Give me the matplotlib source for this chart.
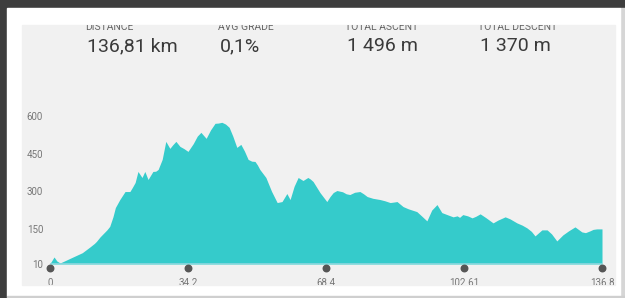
import matplotlib.pyplot as plt
from matplotlib.patches import Rectangle

# Elevation profile (km, m)
km = [0, 0.25, 1.0, 1.7, 2.5, 5.7, 8.0, 9.9, 11.0, 11.5, 12.4, 14.1, 14.8, 15.6,
      16.2, 17.3, 18.6, 19.8, 20.4, 21.1, 21.8, 22.8, 23.5, 24.3, 25.5, 26.2,
      26.8, 27.8, 28.7, 29.7, 30.4, 31.2, 32.2, 33.2, 34.2, 35.5, 36.5, 37.4,
      38.7, 39.8, 40.9, 41.7, 42.6, 43.5, 44.4, 45.3, 46.3, 47.3, 48.2, 49.1,
      50.0, 50.8, 51.4, 52.0, 53.5, 54.9, 56.3, 57.5, 58.7, 59.5, 60.5, 61.5,
      62.7, 63.9, 64.5, 65.2, 66.9, 68.6, 69.4, 70.2, 71.1, 72.5, 73.4, 74.3,
      75.5, 76.8, 77.7, 78.6, 80.0, 81.8, 83.0, 84.3, 85.2, 86.0, 87.5, 88.8,
      90.9, 92.2, 93.4, 94.6, 95.9, 97.1, 98.4, 99.9, 100.9, 101.5, 102.3,
      103.5, 104.6, 105.5, 106.6, 108.0, 109.8, 111.0, 112.8, 114.0, 115.7,
      117.0, 118.2, 119.3, 120.2, 121.9, 123.2, 124.3, 125.6, 127.1, 128.5,
      129.3, 130.1, 131.8, 132.7, 133.8, 134.6, 135.5, 136.8]
elev = [14, 18, 38, 22, 14, 38, 55, 78, 92, 100, 118, 146, 160, 198,
        235, 267, 299, 299, 315, 335, 379, 355, 379, 347, 379, 380,
        387, 427, 499, 471, 485, 499, 479, 470, 459, 490, 520, 535,
        511, 545, 571, 572, 575, 568, 555, 520, 475, 487, 460, 427,
        420, 419, 405, 387, 355, 300, 255, 259, 291, 267, 320, 355,
        343, 355, 349, 339, 295, 259, 279, 295, 303, 298, 290, 287,
        296, 299, 290, 279, 272, 267, 262, 255, 257, 259, 239, 230,
        219, 200, 182, 225, 247, 215, 207, 198, 202, 196, 207,
        202, 194, 200, 210, 195, 174, 185, 198, 190, 174,
        165, 154, 140, 122, 146, 146, 130, 102, 126, 142,
        150, 158, 138, 135, 142, 148, 150, 150]

yticks = [10, 150, 300, 450, 600]
xticks = [0, 34.2, 68.4, 102.61, 136.8]
xtick_labels = ["0", "34.2", "68.4", "102.61", "136.8"]

stat_labels = ["DISTANCE", "AVG GRADE", "TOTAL ASCENT", "TOTAL DESCENT"]
stat_values = ["136,81 km", "0,1%", "1 496 m", "1 370 m"]
stat_x = [87, 220, 347, 480]

W, H = 625, 298
fig = plt.figure(figsize=(W / 100, H / 100), dpi=100)
fig.patch.set_facecolor("#3d3d3d")

# background in pixel coordinates
bg = fig.add_axes([0, 0, 1, 1])
bg.set_xlim(0, W)
bg.set_ylim(H, 0)
bg.axis("off")
bg.add_patch(Rectangle((620, 8), 5, 290, color="#d6d6d6"))
bg.add_patch(Rectangle((7, 8), 613, 288, color="white"))
bg.add_patch(Rectangle((7, 296), 618, 2, color="#cfcfcf"))
panel = Rectangle((22, 25), 593, 260, color="#f1f1f1")
bg.add_patch(panel)

for x, lab, val in zip(stat_x, stat_labels, stat_values):
    t = bg.text(x - 2, 29.5, lab, fontsize=7.5, color="#666666", family="Roboto",
                va="baseline", ha="left", clip_on=True)
    t.set_clip_path(panel)
    bg.text(x, 51, val, fontsize=14, color="#3a3a3a", family="Roboto",
            va="baseline", ha="left")

# chart area: 0..136.8 km on x, 10 m at the baseline
ax = fig.add_axes([50 / W, (H - 264) / H, 552 / W, 164 / H])
ax.patch.set_alpha(0)
ax.fill_between(km, elev, 10, color="#35cbcb", lw=0)
ax.axhline(10, color="#8fd6e0", lw=1.2)
ax.set_xlim(0, 136.8)
ax.set_ylim(10, 664)
for s in ax.spines.values():
    s.set_visible(False)
ax.set_xticks([])
ax.set_yticks(yticks)
ax.tick_params(axis="y", length=0, pad=5, labelsize=7, labelcolor="#777777")
for lab in ax.get_yticklabels():
    lab.set_family("Roboto")

tr = ax.get_xaxis_transform()
ax.scatter(xticks, [-4 / 164] * len(xticks), s=22, color="#555555",
           transform=tr, clip_on=False, zorder=5)
for x, lab in zip(xticks, xtick_labels):
    t = ax.text(x, -19.5 / 164, lab, transform=tr, ha="center", va="center",
                fontsize=7, color="#777777", family="Roboto", clip_on=True)
    t.set_clip_path(panel)

fig.savefig("out.png", dpi=100, facecolor=fig.get_facecolor())
